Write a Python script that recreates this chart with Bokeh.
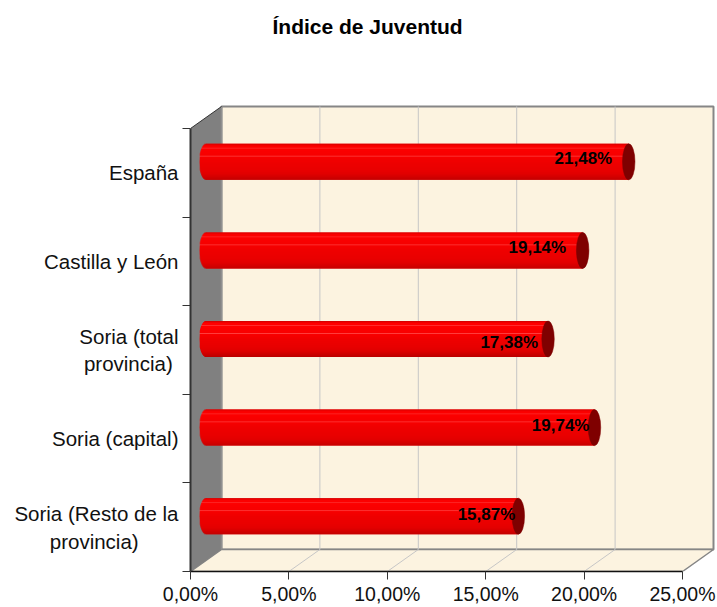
import math
from bokeh.plotting import figure
from bokeh.models import FixedTicker, Range1d, LinearAxis, Title
from bokeh.core.properties import value
from bokeh.embed import file_html
from bokeh.resources import INLINE

categories = ["Soria (Resto de la\nprovincia)", "Soria (capital)", "Soria (total\nprovincia)", "Castilla y León", "España"]
values = [15.87, 19.74, 17.38, 19.14, 21.48]
value_labels = ["15,87%", "19,74%", "17,38%", "19,14%", "21,48%"]
x_ticks = [0, 5, 10, 15, 20, 25]
x_tick_labels = ["0,00%", "5,00%", "10,00%", "15,00%", "20,00%", "25,00%"]

# where each value label sits relative to its bar end, in pixels
label_dx = [-3, -5, -10, -16.5, -16.5]
label_dy = [-2, -2, 3, -3, -3]
# no-break spaces that centre the second line under the first
second_line_pad = {0: 7, 2: 1}

PX_X = 19.68   # pixels per percent
PX_Y = 88.6    # pixels per category
W, H = 717, 607
LEFT, TOP, BOTTOM, RIGHT = 190, 104, 36, 1
DX = 31 / PX_X
DY = 22 / PX_Y
BAR_H = 36 / PX_Y
CAP_W = 12.5 / PX_X
FONT = value("Liberation Sans")
WALL = "#FCF3E0"
n = len(categories)

p = figure(width=W, height=H, output_backend="svg", toolbar_location=None,
           x_axis_type=None, y_axis_type=None,
           x_range=Range1d(0, (W - LEFT - RIGHT) / PX_X),
           y_range=Range1d(0, (H - TOP - BOTTOM) / PX_Y),
           min_border_left=LEFT, min_border_right=RIGHT,
           min_border_top=TOP, min_border_bottom=BOTTOM,
           outline_line_color=None, background_fill_color=None)
p.grid.visible = False

# back wall, floor, side wall
p.quad(left=[DX], right=[x_ticks[-1] + DX], bottom=[DY], top=[n + DY],
       fill_color=WALL, line_color="#868686", line_width=2)
p.patch([0, x_ticks[-1], x_ticks[-1] + DX, DX], [0, 0, DY, DY],
        fill_color=WALL, line_color="#868686", line_width=1.5)
p.patch([0, DX, DX, 0], [0, DY, n + DY, n],
        fill_color="#808080", line_color=None)
p.line([DX, DX], [DY, n + DY], line_color="#909090", line_width=1.5)
p.line([0, DX], [n, n + DY], line_color="#333333", line_width=1)

# gridlines
grid = x_ticks[1:-1]
p.segment(x0=[t + DX for t in grid], y0=[DY] * len(grid),
          x1=[t + DX for t in grid], y1=[n + DY] * len(grid),
          line_color="#C6C6C6", line_width=1)
p.segment(x0=grid, y0=[0] * len(grid),
          x1=[t + DX for t in grid], y1=[DY] * len(grid),
          line_color="#C6C6C6", line_width=1)

# cylinder shading, top to bottom
shades = ["#D80000", "#F00000", "#FF0000", "#FF0000", "#FF2C2C", "#FF0000",
          "#FF0000", "#FC0000", "#FC0000", "#FA0000", "#FA0000", "#F80000",
          "#FF3C3C", "#F80000", "#F60000", "#F40000", "#F20000", "#F00000",
          "#EE0000", "#EE0000", "#EC0000", "#EC0000", "#EA0000", "#EA0000",
          "#E80000", "#E80000", "#E60000", "#E40000", "#E20000", "#E00000",
          "#DC0000", "#D60000", "#D00000", "#CA0000", "#C40000", "#BC0000"]
m = len(shades)
for i, v in enumerate(values):
    yc = i + 0.5 + DY / 2
    xs = DX / 2
    lefts, rights, tops, bottoms = [], [], [], []
    for k in range(m):
        t = (k + 0.5) / m * 2 - 1
        lefts.append(xs - CAP_W / 2 * min(1, 1.12 * math.sqrt(1 - t * t)))
        rights.append(xs + v)
        tops.append(yc + BAR_H / 2 - k * BAR_H / m)
        bottoms.append(yc + BAR_H / 2 - (k + 1) * BAR_H / m)
    p.ellipse(x=[xs], y=[yc], width=CAP_W, height=BAR_H * 0.98,
              fill_color="#F00000", line_color=None)
    p.quad(left=[xs], right=[xs + v], top=[tops[0]], bottom=[bottoms[-1]],
           fill_color="#F00000", line_color=None)
    p.quad(left=lefts, right=rights, top=tops, bottom=bottoms,
           fill_color=shades, line_color=None)
    p.ellipse(x=[xs + v], y=[yc], width=CAP_W, height=BAR_H,
              fill_color="#7F0000", line_color="#7F0000", line_width=0.5)

p.text(x=[v + DX / 2 for v in values], y=[i + 0.5 + DY / 2 for i in range(n)],
       text=value_labels, text_align="right", text_baseline="middle",
       x_offset=label_dx, y_offset=label_dy, text_font=FONT, text_font_size="17px",
       text_font_style="bold", text_color="#000000")

# axes
xa = LinearAxis(ticker=FixedTicker(ticks=x_ticks), bounds=(0, x_ticks[-1]),
                major_label_overrides={t: s for t, s in zip(x_ticks, x_tick_labels)})
xa.major_tick_in = 0
xa.major_tick_out = 8
xa.minor_tick_line_color = None
xa.major_tick_line_color = "#333333"
xa.axis_line_color = "#111111"
xa.axis_line_width = 1.5
xa.major_label_standoff = 3
xa.major_label_text_baseline = "hanging"
xa.major_label_text_font = "Liberation Sans"
xa.major_label_text_font_size = "19.5px"
xa.major_label_text_color = "#111111"
p.add_layout(xa, "below")

axis_names = {i + 0.5: c + "\u00a0" * second_line_pad.get(i, 0) for i, c in enumerate(categories)}
ya = LinearAxis(ticker=FixedTicker(ticks=[i + 0.5 for i in range(n)],
                                   minor_ticks=list(range(n + 1))),
                bounds=(0, n), major_label_overrides=axis_names)
ya.major_tick_line_color = None
ya.major_tick_in = 0
ya.major_tick_out = 0
ya.minor_tick_in = 0
ya.minor_tick_out = 8
ya.minor_tick_line_color = "#333333"
ya.axis_line_color = "#333333"
ya.axis_line_width = 2
ya.major_label_standoff = 4
ya.major_label_text_line_height = 1.2
ya.major_label_text_font = "Liberation Sans"
ya.major_label_text_font_size = "20.5px"
ya.major_label_text_color = "#111111"
p.add_layout(ya, "left")

# a blank title between the frame and the real one lifts it to the top of the page
p.title = None
p.add_layout(Title(text="\u00a0", text_font_size="21px", standoff=37), "above")
p.add_layout(Title(text="Índice de Juventud", text_font="Liberation Sans",
                   text_font_style="bold", text_font_size="21px", text_color="#000000",
                   align="left", offset=82, standoff=10), "above")

open("out.html", "w").write(file_html(p, INLINE))
